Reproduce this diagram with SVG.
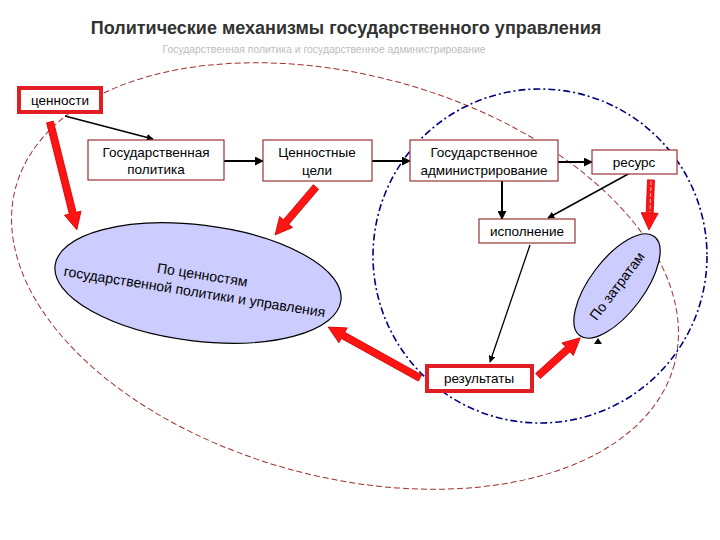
<svg xmlns="http://www.w3.org/2000/svg" width="720" height="540" viewBox="0 0 720 540">
<defs>
<style>
text{font-family:"Liberation Sans",Arial,sans-serif;fill:#000}
.box{fill:#fff;stroke:#993333;stroke-width:1.2}
.rbox{fill:#fff;stroke:#e01e24;stroke-width:4}
.lbl{font-size:13.5px;text-anchor:middle}
.ell{fill:#ccccff;stroke:#000;stroke-width:1.2}
.con{stroke:#000;fill:none}
.big{fill:#ff1414;stroke:#d00000;stroke-width:0.8}
</style>
<marker id="ah" viewBox="0 0 10 10" refX="9" refY="5" markerWidth="7" markerHeight="7" markerUnits="userSpaceOnUse" orient="auto">
<path d="M0,0 L10,5 L0,10 Z" fill="#000"/>
</marker>
<marker id="ah2" viewBox="0 0 10 10" refX="9" refY="5" markerWidth="9" markerHeight="9" markerUnits="userSpaceOnUse" orient="auto">
<path d="M0,0 L10,5 L0,10 Z" fill="#000"/>
</marker>
</defs>
<rect width="720" height="540" fill="#fff"/>
<text x="346" y="34" style="font-size:18px;font-weight:bold;text-anchor:middle;fill:#333">Политические механизмы государственного управления</text>
<text x="324" y="53" style="font-size:10.4px;text-anchor:middle;fill:#bdbdbd">Государственная политика и государственное администрирование</text>

<g id="regions">
<ellipse cx="345" cy="276" rx="341" ry="201" transform="rotate(15 345 276)" fill="none" stroke="#a03030" stroke-width="1" stroke-dasharray="6 3"/>
<circle cx="540" cy="256" r="167" fill="none" stroke="#000080" stroke-width="1.6" stroke-dasharray="7 3 2 3"/>
</g>

<g id="node-values-ellipse">
<ellipse class="ell" cx="198" cy="283" rx="144" ry="58" transform="rotate(7 198 283)"/>
<g transform="rotate(9 198 283)">
<text class="lbl" x="201" y="279" style="font-size:14px">По ценностям</text>
<text class="lbl" x="196" y="297" style="font-size:14px">государственной политики и управления</text>
</g>
</g>

<g id="node-costs-ellipse">
<ellipse class="ell" cx="617" cy="286" rx="62" ry="27" transform="rotate(-53 617 286)"/>
<text class="lbl" x="617" y="291" style="font-size:14px" transform="rotate(-53 617 286)">По затратам</text>
</g>

<g id="connectors">
<line class="con" x1="65" y1="116" x2="153" y2="139" stroke-width="1.6" marker-end="url(#ah)"/>
<line class="con" x1="224" y1="161" x2="263" y2="161" stroke-width="2" marker-end="url(#ah2)"/>
<line class="con" x1="372" y1="161" x2="410" y2="161" stroke-width="2" marker-end="url(#ah2)"/>
<line class="con" x1="558" y1="162" x2="592" y2="162" stroke-width="2" marker-end="url(#ah2)"/>
<line class="con" x1="502" y1="181" x2="502" y2="219" stroke-width="2" marker-end="url(#ah2)"/>
<line class="con" x1="630" y1="173" x2="548" y2="218" stroke-width="1.5" marker-end="url(#ah)"/>
<line class="con" x1="530" y1="245" x2="490" y2="362" stroke-width="1.3" marker-end="url(#ah)"/>
<path d="M598,338 L602,344 L594,344 Z" fill="#000"/>
</g>

<g id="big-arrows">
<path class="big" transform="translate(50 122) rotate(76)" d="M0,-3.5 H94 V-8.5 L111,0 L94,8.5 V3.5 H0 Z"/>
<path class="big" transform="translate(316 187) rotate(130.5)" d="M0,-3.5 H46 V-8.5 L63,0 L46,8.5 V3.5 H0 Z"/>
<path class="big" transform="translate(651 180) rotate(92.3)" d="M0,-3.5 H33 V-8.5 L50,0 L33,8.5 V3.5 H0 Z"/>
<line x1="651" y1="181" x2="650" y2="212" stroke="#fff" stroke-width="1" stroke-dasharray="4 2" opacity="0.7"/>
<path class="big" transform="translate(420 378) rotate(-151)" d="M0,-3.5 H88 V-8.5 L105,0 L88,8.5 V3.5 H0 Z"/>
<path class="big" transform="translate(538 376) rotate(-42.1)" d="M0,-3.5 H40 V-8.5 L57,0 L40,8.5 V3.5 H0 Z"/>
</g>

<g id="node-values">
<rect class="rbox" x="19" y="88" width="82" height="24"/>
<text class="lbl" x="60" y="105">ценности</text>
</g>
<g id="node-policy">
<rect class="box" x="88" y="140" width="136" height="40"/>
<text class="lbl" x="156" y="157">Государственная</text>
<text class="lbl" x="156" y="174">политика</text>
</g>
<g id="node-goals">
<rect class="box" x="263" y="140" width="109" height="41"/>
<text class="lbl" x="317" y="157">Ценностные</text>
<text class="lbl" x="317" y="175">цели</text>
</g>
<g id="node-admin">
<rect class="box" x="410" y="140" width="148" height="41"/>
<text class="lbl" x="484" y="157">Государственное</text>
<text class="lbl" x="484" y="175">администрирование</text>
</g>
<g id="node-resource">
<rect class="box" x="592" y="150" width="85" height="24"/>
<text class="lbl" x="634" y="167">ресурс</text>
</g>
<g id="node-execution">
<rect class="box" x="479" y="219" width="96" height="24"/>
<text class="lbl" x="527" y="236">исполнение</text>
</g>
<g id="node-results">
<rect class="rbox" x="427" y="366" width="105" height="25"/>
<text class="lbl" x="479" y="383">результаты</text>
</g>
</svg>
